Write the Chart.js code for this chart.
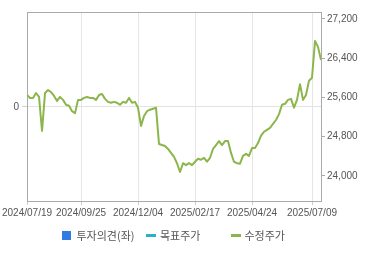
<!DOCTYPE html>
<html>
<head>
<meta charset="utf-8">
<script src="https://cdn.jsdelivr.net/npm/chart.js@4.4.1/dist/chart.umd.min.js"></script>
<style>
  html, body { margin: 0; padding: 0; background: #fff; }
  #wrap { position: relative; width: 370px; height: 255px; }
  #legend {
    position: absolute; left: 0; top: 228px; width: 370px; height: 15px;
    display: flex; padding-left: 61.5px; box-sizing: border-box;
    font: 11px "Noto Sans CJK KR", sans-serif; color: #555; line-height: 15px;
  }
  #legend .item { width: 84.5px; display: flex; align-items: center; white-space: nowrap; }
  #legend .sq { display: inline-block; width: 9px; height: 9px; margin-right: 6px; }
  #legend .ln { display: inline-block; width: 10px; height: 3px; margin-right: 4px; }
</style>
</head>
<body>
<div id="wrap">
  <canvas id="priceChart" width="370" height="255"></canvas>
  <div id="legend"></div>
</div>
<script>
// x axis: trading-day sample index, labelled dates at these indices
const xTickIdx = [0, 18, 37, 56, 75, 95];
const xTickLabels = ["2024/07/19", "2024/09/25", "2024/12/04", "2025/02/17", "2025/04/24", "2025/07/09"];

// right axis (price) and left axis (opinion) ticks
const priceTicks = [24000, 24800, 25600, 26400, 27200];
const opinionTicks = [0];

// 수정주가 (adjusted price)
const adjPrice = [
  25650, 25590, 25590, 25690, 25610, 24920, 25690, 25750, 25710, 25630,
  25530, 25610, 25550, 25450, 25430, 25320, 25280, 25550, 25550, 25590,
  25610, 25590, 25590, 25550, 25650, 25670, 25570, 25510, 25490, 25510,
  25490, 25450, 25510, 25490, 25590, 25490, 25510, 25390, 25020, 25220,
  25320, 25350, 25370, 25390, 24650, 24630, 24610, 24550, 24470, 24390,
  24260, 24080, 24260, 24220, 24260, 24220, 24290, 24350, 24330, 24370,
  24290, 24370, 24550, 24630, 24710, 24630, 24710, 24710, 24470, 24290,
  24260, 24250, 24410, 24450, 24410, 24570, 24570, 24670, 24820, 24900,
  24940, 24980, 25060, 25140, 25260, 25450, 25470, 25550, 25570, 25390,
  25550, 25870, 25550, 25650, 25940, 26000, 26750, 26630, 26360
];
const targetPrice = [];
const opinion = [];
const dayIdx = adjPrice.map((v, i) => i);

const tickFont = { family: "'Liberation Sans', Arial, sans-serif", size: 10 };
const frameColor = "#aaaaaa";

// legend drawn as html so items sit on fixed columns
const htmlLegend = {
    id: "htmlLegend",
    afterUpdate(chart) {
        const box = document.getElementById("legend");
        box.innerHTML = "";
        chart.data.datasets.forEach(ds => {
            const item = document.createElement("div");
            item.className = "item";
            const mark = document.createElement("span");
            if (ds.type === "bar") {
                mark.className = "sq";
                mark.style.background = ds.backgroundColor;
            } else {
                mark.className = "ln";
                mark.style.background = ds.borderColor;
            }
            const txt = document.createElement("span");
            txt.textContent = ds.label;
            item.append(mark, txt);
            box.append(item);
        });
    }
};

new Chart(document.getElementById("priceChart").getContext("2d"), {
    type: "line",
    data: {
        labels: dayIdx,
        datasets: [
            {
                type: "bar",
                label: "투자의견(좌)",
                data: opinion,
                backgroundColor: "#2f7de0",
                yAxisID: "yOpinion"
            },
            {
                label: "목표주가",
                data: targetPrice,
                borderColor: "#27b3c4",
                borderWidth: 2,
                pointRadius: 0,
                yAxisID: "yPrice"
            },
            {
                label: "수정주가",
                data: adjPrice,
                borderColor: "#8cb64c",
                borderWidth: 2,
                pointRadius: 0,
                tension: 0,
                borderJoinStyle: "round",
                yAxisID: "yPrice"
            }
        ]
    },
    options: {
        responsive: false,
        animation: false,
        events: [],
        layout: { padding: { top: 12.5, left: 0, right: 0, bottom: 30 } },
        plugins: {
            legend: { display: false },
            tooltip: { enabled: false }
        },
        scales: {
            x: {
                type: "linear",
                offset: false,
                min: 0,
                max: adjPrice.length - 1,
                afterBuildTicks: s => { s.ticks = xTickIdx.map(v => ({ value: v })); },
                afterFit: s => { s.height = 24; },
                ticks: {
                    autoSkip: false, maxRotation: 0, padding: 2,
                    color: "#555", font: tickFont,
                    callback: (v, i) => xTickLabels[i]
                },
                grid: { offset: false, color: "#e6e6e6", tickColor: "#cccccc", tickLength: 4 },
                border: { color: frameColor }
            },
            xTop: {
                type: "linear",
                position: "top",
                afterFit: s => { s.height = 0; },
                ticks: { display: false },
                grid: { display: false },
                border: { display: true, color: frameColor }
            },
            yOpinion: {
                position: "left",
                min: -1,
                max: 1,
                afterBuildTicks: s => { s.ticks = opinionTicks.map(v => ({ value: v })); },
                afterFit: s => { s.width = 26.5; },
                ticks: { padding: 3, color: "#555", font: tickFont },
                grid: { color: "#e3e3e3", tickColor: "#d0d0d0", tickLength: 5 },
                border: { color: frameColor }
            },
            yPrice: {
                position: "right",
                min: 23490,
                max: 27330,
                afterBuildTicks: s => { s.ticks = priceTicks.map(v => ({ value: v })); },
                afterFit: s => { s.width = 49; },
                ticks: {
                    padding: 2, color: "#555", font: tickFont,
                    callback: v => v.toLocaleString("en-US")
                },
                grid: { drawOnChartArea: false, tickColor: frameColor, tickLength: 4 },
                border: { color: frameColor }
            }
        }
    },
    plugins: [htmlLegend]
});
</script>
</body>
</html>
